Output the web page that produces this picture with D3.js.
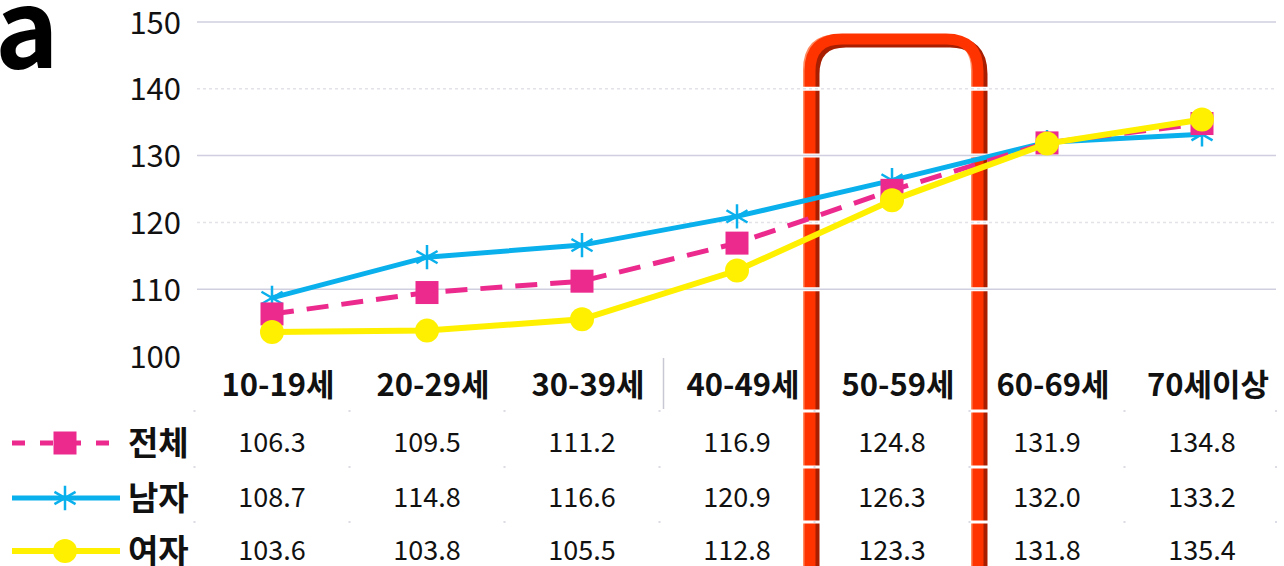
<!DOCTYPE html>
<html>
<head>
<meta charset="utf-8">
<script src="https://cdn.jsdelivr.net/npm/d3@7"></script>
<style>
  body { margin: 0; background: #fff; }
  text { font-family: "Noto Sans CJK KR", "Noto Sans", sans-serif; }
</style>
</head>
<body>
<script>
var width = 1284;
var height = 566;

// data
var categories = ["10-19세", "20-29세", "30-39세", "40-49세", "50-59세", "60-69세", "70세이상"];
var seriesNames = ["전체", "남자", "여자"];
var totalValues = [106.3, 109.5, 111.2, 116.9, 124.8, 131.9, 134.8];
var maleValues = [108.7, 114.8, 116.6, 120.9, 126.3, 132.0, 133.2];
var femaleValues = [103.6, 103.8, 105.5, 112.8, 123.3, 131.8, 135.4];
var yTicks = [100, 110, 120, 130, 140, 150];

var series = [
  { name: seriesNames[1], values: maleValues, color: "#0ab0ec", dash: null, marker: "star" },
  { name: seriesNames[0], values: totalValues, color: "#ec2a8e", dash: "22,13", marker: "square" },
  { name: seriesNames[2], values: femaleValues, color: "#fff000", dash: null, marker: "circle" }
];
var tableOrder = [series[1], series[0], series[2]];

var svg = d3.select("body").append("svg")
  .attr("width", width)
  .attr("height", height);

var x = d3.scalePoint().domain(categories).range([272, 1202]);
var y = d3.scaleLinear().domain([100, 150]).range([356, 22]);
var step = x.step();

// big panel letter
svg.append("text")
  .attr("x", -5).attr("y", 68)
  .style("font-size", "108px").style("font-weight", 700)
  .text("a");

// red highlight frame (drawn under everything else)
function framePath(dx, dy) {
  var l = 810 + dx, r = 978 + dx, t = 39 + dy, rad = 32, b = 600;
  return "M" + l + "," + b + " L" + l + "," + (t + rad) +
    " Q" + l + "," + t + " " + (l + rad) + "," + t +
    " L" + (r - rad) + "," + t +
    " Q" + r + "," + t + " " + r + "," + (t + rad) +
    " L" + r + "," + b;
}
svg.append("path").attr("d", framePath(4, 3))
  .attr("fill", "none").attr("stroke", "#a81e00").attr("stroke-width", 11);
svg.append("path").attr("d", framePath(-3, -1))
  .attr("fill", "none").attr("stroke", "#ff8a60").attr("stroke-width", 8);
svg.append("path").attr("d", framePath(0, 0))
  .attr("fill", "none").attr("stroke", "#ff3300").attr("stroke-width", 11);

// gridlines
var grid = svg.append("g");
grid.selectAll(".gw")
  .data(yTicks.slice(1))
  .enter().append("line")
  .attr("x1", 197).attr("x2", 1276)
  .attr("y1", function(d) { return y(d); })
  .attr("y2", function(d) { return y(d); })
  .attr("stroke", "#fff").attr("stroke-width", 4);
grid.selectAll(".gl")
  .data(yTicks.slice(1))
  .enter().append("line")
  .attr("x1", 197).attr("x2", 1276)
  .attr("y1", function(d) { return y(d); })
  .attr("y2", function(d) { return y(d); })
  .attr("stroke", function(d) { return d % 20 == 0 ? "#e2e2e8" : "#cfcfe0"; })
  .attr("stroke-width", 1.5)
  .attr("stroke-dasharray", function(d) { return d % 20 == 0 ? "3,3" : null; });

// y axis labels
var yAxis = svg.append("g")
  .attr("transform", "translate(181,0)")
  .call(d3.axisLeft(y).tickValues(yTicks).tickSize(0).tickPadding(0));
yAxis.select(".domain").remove();
yAxis.selectAll("text")
  .style("font-size", "31px")
  .style("font-family", "'Noto Sans CJK KR', sans-serif")
  .style("font-weight", 400)
  .attr("fill", "#111")
  .attr("dy", "0.36em");

// category labels
svg.append("g").selectAll("text")
  .data(categories)
  .enter().append("text")
  .attr("x", function(d) { return x(d) + 6; })
  .attr("y", 396)
  .attr("text-anchor", "middle")
  .style("font-size", "31px").style("font-weight", 700)
  .attr("fill", "#111")
  .text(function(d) { return d; });

// separator next to 40-49
svg.append("line")
  .attr("x1", x(categories[3]) - step / 2 + 4).attr("x2", x(categories[3]) - step / 2 + 4)
  .attr("y1", 358).attr("y2", 409)
  .attr("stroke", "#c8c8d4").attr("stroke-width", 1.5);

// table row separators (white breaks across the frame) and faint dots
var rowLines = [411, 467, 522];
svg.append("g").selectAll("line")
  .data(rowLines)
  .enter().append("line")
  .attr("x1", 190).attr("x2", 1280)
  .attr("y1", function(d) { return d; }).attr("y2", function(d) { return d; })
  .attr("stroke", "#fff").attr("stroke-width", 3);
var colEdges = categories.map(function(c) { return x(c) - step / 2; }).concat([1276]);
rowLines.forEach(function(ry) {
  svg.append("g").selectAll("rect")
    .data(colEdges)
    .enter().append("rect")
    .attr("x", function(d) { return d - 1; }).attr("y", ry - 1)
    .attr("width", 2).attr("height", 2)
    .attr("fill", "#dcdce4");
});

// lines
var line = d3.line()
  .x(function(d, i) { return x(categories[i]); })
  .y(function(d) { return y(d); });

function drawMarker(g, type, color, cx, cy) {
  if (type == "square") {
    g.append("rect")
      .attr("x", cx - 11.5).attr("y", cy - 11.5)
      .attr("width", 23).attr("height", 23)
      .attr("fill", color);
  } else if (type == "circle") {
    g.append("circle")
      .attr("cx", cx).attr("cy", cy).attr("r", 12)
      .attr("fill", color);
  } else {
    g.append("path")
      .attr("transform", "translate(" + cx + "," + cy + ")")
      .attr("d", d3.symbol().type(d3.symbolAsterisk).size(420)())
      .attr("fill", "none").attr("stroke", color).attr("stroke-width", 2.5);
  }
}

series.forEach(function(s) {
  var g = svg.append("g");
  g.append("path")
    .datum(s.values)
    .attr("d", line)
    .attr("fill", "none")
    .attr("stroke", s.color)
    .attr("stroke-width", s.marker == "circle" ? 6 : 5)
    .attr("stroke-dasharray", s.dash);
  s.values.forEach(function(v, i) {
    drawMarker(g, s.marker, s.color, x(categories[i]), y(v));
  });
});

// table: legend + values
var rowY = [443, 498, 551];
tableOrder.forEach(function(s, r) {
  var ry = rowY[r];
  var g = svg.append("g");
  g.append("line")
    .attr("x1", 12).attr("x2", 120)
    .attr("y1", ry).attr("y2", ry)
    .attr("stroke", s.color)
    .attr("stroke-width", s.marker == "circle" ? 6 : 5)
    .attr("stroke-dasharray", s.dash ? "13,15" : null);
  drawMarker(g, s.marker, s.color, 65, ry);
  g.append("text")
    .attr("x", 128).attr("y", ry + 12)
    .style("font-size", "33px").style("font-weight", 700)
    .attr("fill", "#111")
    .text(s.name);
  g.selectAll(".val")
    .data(s.values)
    .enter().append("text")
    .attr("x", function(d, i) { return x(categories[i]); })
    .attr("y", ry + 9)
    .attr("text-anchor", "middle")
    .style("font-size", "27px")
    .attr("fill", "#111")
    .text(function(d) { return d.toFixed(1); });
});
</script>
</body>
</html>
